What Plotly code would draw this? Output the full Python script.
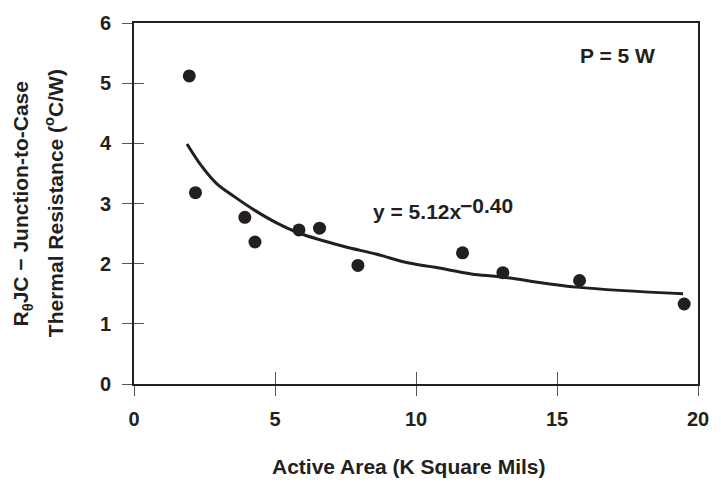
import plotly.graph_objects as go

# Measured data points
area = [1.96, 2.18, 3.93, 4.29, 5.85, 6.58, 7.94, 11.65, 13.08, 15.80, 19.51]
rjc = [5.12, 3.18, 2.77, 2.36, 2.56, 2.59, 1.97, 2.18, 1.85, 1.72, 1.33]

# Trend curve
fit_x = [1.88, 2.40, 2.93, 3.57, 4.27, 5.09, 5.85, 7.42, 8.58, 9.75, 10.68, 11.96, 13.01, 15.69, 19.47]
fit_y = [3.99, 3.62, 3.33, 3.11, 2.89, 2.67, 2.51, 2.29, 2.16, 2.01, 1.94, 1.83, 1.78, 1.61, 1.50]

x_ticks = [0, 5, 10, 15, 20]
y_ticks = [0, 1, 2, 3, 4, 5, 6]

INK = "#231f20"
FONT = dict(family="Liberation Sans, Arial, sans-serif", size=21, color=INK, weight="bold")
TICKFONT = dict(family="Liberation Sans, Arial, sans-serif", size=20, color=INK, weight="bold")

fig = go.Figure()
fig.add_trace(go.Scatter(x=fit_x, y=fit_y, mode="lines",
                         line=dict(color=INK, width=3, shape="spline"),
                         hoverinfo="skip", showlegend=False))
fig.add_trace(go.Scatter(x=area, y=rjc, mode="markers",
                         marker=dict(color=INK, size=13, line=dict(width=0)),
                         showlegend=False))

axis_common = dict(showgrid=False, zeroline=False, showline=True, linecolor=INK,
                   linewidth=2, mirror=True, ticks="outside", ticklen=10,
                   tickwidth=1, tickcolor="#555555", tickfont=TICKFONT)

fig.update_layout(
    width=721, height=483,
    margin=dict(l=134, r=18, t=16, b=99),
    paper_bgcolor="white", plot_bgcolor="white",
    xaxis=dict(range=[0, 20], tickvals=x_ticks, ticklabelstandoff=6, **axis_common),
    yaxis=dict(range=[0, 6], tickvals=y_ticks, ticklabelstandoff=7, **axis_common),
    xaxis2=dict(range=[0, 20], tickvals=x_ticks, overlaying="x", showticklabels=False,
                ticks="inside", ticklen=12, tickwidth=1, tickcolor="#555555",
                showgrid=False, zeroline=False, showline=False, side="bottom"),
    yaxis2=dict(range=[0, 6], tickvals=y_ticks, overlaying="y", showticklabels=False,
                ticks="inside", ticklen=10, tickwidth=1, tickcolor="#555555",
                showgrid=False, zeroline=False, showline=False, side="left"),
)
# invisible trace to activate the overlay axes (crossing tick marks)
fig.add_trace(go.Scatter(x=[None], y=[None], xaxis="x2", yaxis="y2", showlegend=False,
                         hoverinfo="skip"))

fig.add_annotation(text="Active Area (K Square Mils)", xref="paper", yref="paper",
                   x=0.486, y=-0.228, yanchor="middle", showarrow=False, font=FONT)
fig.add_annotation(text="R<sub>θ</sub>JC − Junction-to-Case", xref="paper", yref="paper",
                   x=-0.1986, xanchor="center", y=0.5, textangle=-90, showarrow=False,
                   font=FONT)
fig.add_annotation(text="Thermal Resistance (<sup>o</sup>C/W)", xref="paper", yref="paper",
                   x=-0.1424, xanchor="center", y=0.5, textangle=-90, showarrow=False,
                   font=FONT)
fig.add_annotation(text="P = 5 W", x=17.16, y=5.46, showarrow=False, font=FONT)
fig.add_annotation(text="y = 5.12x", x=8.40, y=2.87, xanchor="left",
                   showarrow=False, font=FONT)
fig.add_annotation(text="−0.40", x=11.48, y=2.96, xanchor="left",
                   showarrow=False, font=FONT)

fig.write_html("out.html", config={"displayModeBar": False},
               post_script="document.body.style.margin='0';")
